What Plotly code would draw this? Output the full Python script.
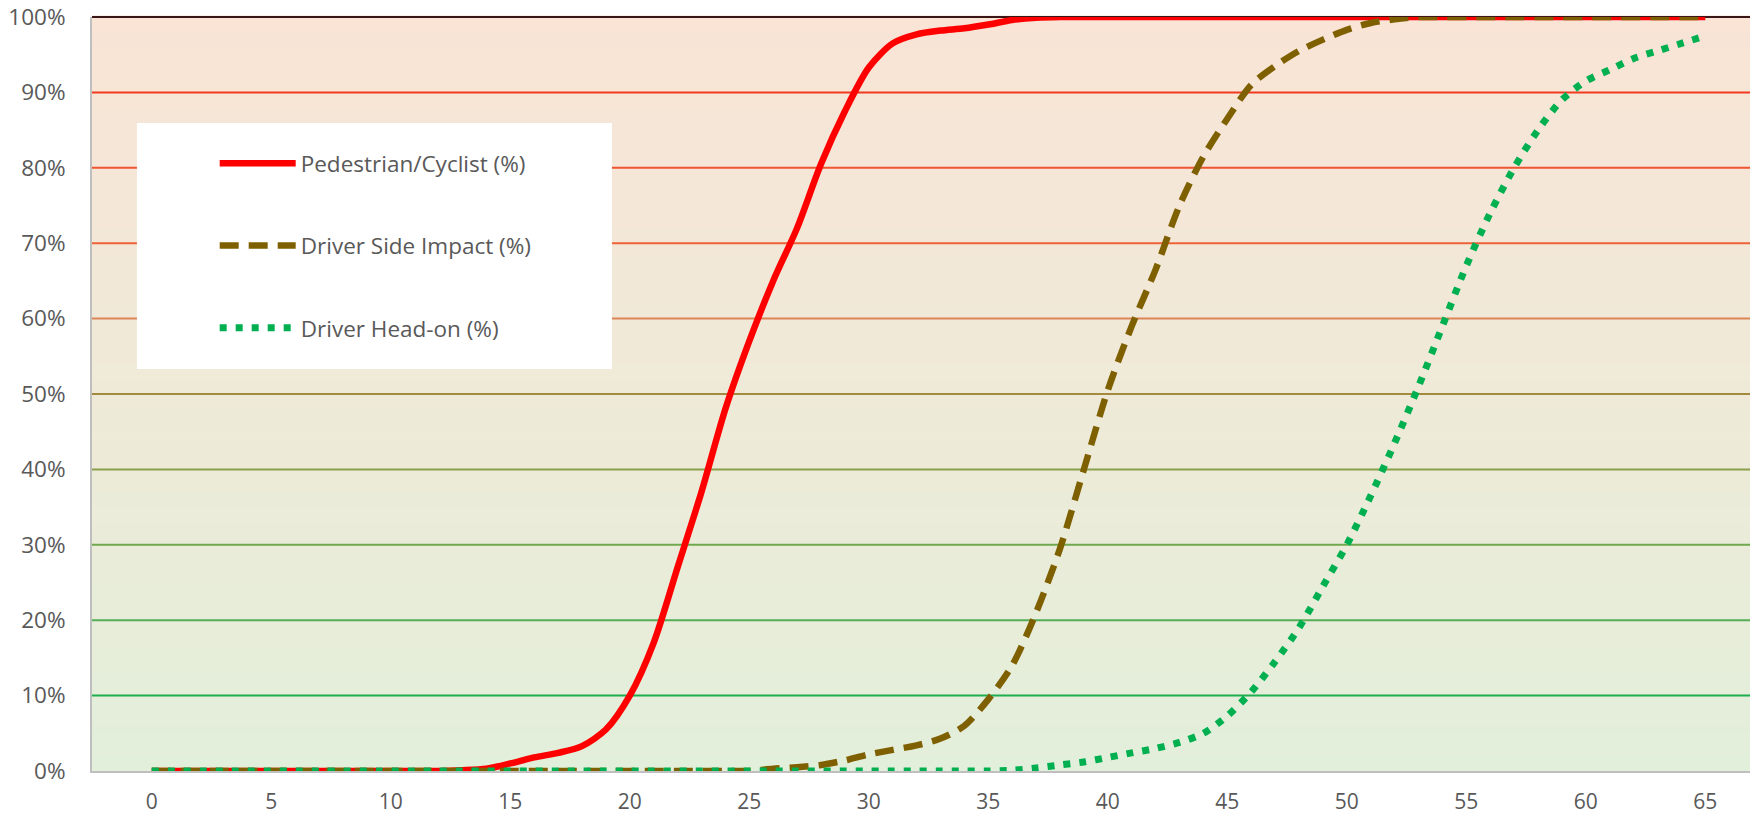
import plotly.graph_objects as go

speed = list(range(0, 66))

pedestrian = [0]*13 + [0.1, 0.3, 1.0, 1.8, 2.4, 3.3, 5.5, 10, 17, 27, 37, 48, 57, 65, 72, 80.5, 87.5,
              93.3, 96.5, 97.7, 98.2, 98.5, 99.0, 99.6, 99.9] + [100]*28
side_impact = [0]*26 + [0.3, 0.5, 0.8, 1.4, 2.2, 2.8, 3.4, 4.3, 6.0, 9.5, 14, 21, 29.5, 40, 50.5, 59,
               66.5, 75, 81.5, 86.5, 91, 93.5, 95.5, 97, 98.3, 99.2, 99.7] + [100]*13
head_on = [0]*36 + [0.1, 0.4, 0.8, 1.2, 1.8, 2.4, 3.0, 3.8, 5.0, 7.3, 10.5, 14.5, 19, 24.5, 30, 36.5,
           43.5, 51, 59, 67, 74, 80, 85, 89, 91.5, 93, 94.5, 95.5, 96.5, 97.5]

names = ["Pedestrian/Cyclist (%)", "Driver Side Impact (%)", "Driver Head-on (%)"]
y_ticks = list(range(0, 101, 10))
y_labels = [f"{v}%" for v in y_ticks]
x_ticks = list(range(0, 66, 5))

grid_colors = {10: "#1FAE4F", 20: "#55AD58", 30: "#6FA94E", 40: "#8BA04A", 50: "#A48A3E",
               60: "#DC8656", 70: "#EE6238", 80: "#EF5530", 90: "#F03A1F", 100: "#3A1515"}

fig = go.Figure()
fig.add_trace(go.Scatter(x=speed, y=pedestrian, name=names[0], mode="lines", legendgroup="a",
                         line=dict(color="#FF0000", width=6.5, shape="spline", smoothing=0.8)))
fig.add_trace(go.Scatter(x=speed, y=side_impact, name=names[1], mode="lines", legendgroup="b",
                         line=dict(color="#7F6000", width=6.5, shape="spline", smoothing=0.8,
                                   dash="19px,10px")))
fig.add_trace(go.Scatter(x=speed, y=head_on, name=names[2], mode="lines", legendgroup="c",
                         line=dict(color="#00B050", width=7, shape="spline", smoothing=0.8,
                                   dash="7px,9px")))

# gradient background stripes
shapes = []
top = (249, 228, 214)
mid = (239, 234, 216)
bot = (226, 239, 218)
n = 100
for i in range(n):
    t = (i + 0.5) / n  # 0 bottom -> 1 top
    if t < 0.5:
        a, b, f = bot, mid, t / 0.5
    else:
        a, b, f = mid, top, (t - 0.5) / 0.5
    c = tuple(round(a[k] + (b[k] - a[k]) * f) for k in range(3))
    shapes.append(dict(type="rect", xref="paper", yref="paper", x0=0, x1=1,
                       y0=i / n, y1=(i + 1) / n + 0.002, line=dict(width=0),
                       fillcolor="rgb(%d,%d,%d)" % c, layer="below"))
for v in y_ticks[1:]:
    shapes.append(dict(type="line", xref="paper", yref="paper", x0=0, x1=1, y0=v / 100, y1=v / 100,
                       line=dict(color=grid_colors[v], width=2), layer="below"))
# legend box
shapes.append(dict(type="rect", xref="paper", yref="paper", x0=0.0271, x1=0.3136, y0=0.5332, y1=0.8594,
                   fillcolor="white", line=dict(width=0), layer="above"))

fig.update_layout(
    width=1750, height=815,
    margin=dict(l=92, r=0, t=17, b=44, autoexpand=False),
    paper_bgcolor="white", plot_bgcolor="rgba(0,0,0,0)",
    font=dict(family="Open Sans", size=22, color="#595959"),
    shapes=shapes,
    showlegend=True,
    legend=dict(x=0.074, y=0.834, xanchor="left", yanchor="top", bgcolor="rgba(0,0,0,0)",
                itemwidth=76, tracegroupgap=50, traceorder="grouped",
                font=dict(family="Open Sans", size=22.5, color="#595959")),
    xaxis=dict(range=[-2.5, 66.87], tickvals=x_ticks, showgrid=False, zeroline=False, automargin=False,
               showline=True, linecolor="#BFBFBF", linewidth=2, ticks="", ticklabelstandoff=11,
               tickfont=dict(size=21, color="#595959")),
    yaxis=dict(range=[0, 100], tickvals=y_ticks, ticktext=y_labels, showgrid=False, zeroline=False,
               automargin=False,
               showline=True, linecolor="#BFBFBF", linewidth=2, ticks="", ticklabelstandoff=20,
               tickfont=dict(size=22.5, color="#595959")),
)

fig.write_html("out.html", config={"displayModeBar": False},
               post_script="document.body.style.margin='0';document.body.style.overflow='hidden';")
